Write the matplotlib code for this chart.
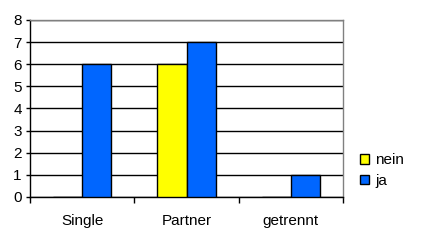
import matplotlib
matplotlib.use("Agg")
import matplotlib.pyplot as plt
import numpy as np

categories = ["Single", "Partner", "getrennt"]
nein = [0, 6, 0]
ja = [6, 7, 1]
series_names = ["nein", "ja"]
yticks = [0, 1, 2, 3, 4, 5, 6, 7, 8]

plt.rcParams['font.family'] = ['Liberation Sans', 'DejaVu Sans']

fig = plt.figure(figsize=(4.23, 2.40), dpi=100)
ax = fig.add_axes([30/423, 43/240, 313/423, 177/240])

x = np.arange(len(categories)) + 0.5
w = 0.28
b1 = ax.bar(x - w, nein, width=w, align='edge', color='#ffff00', edgecolor='black', linewidth=1, zorder=3, label=series_names[0])
b2 = ax.bar(x, ja, width=w, align='edge', color='#0066ff', edgecolor='black', linewidth=1, zorder=3, label=series_names[1])

ax.set_xlim(0, 3)
ax.set_ylim(0, 8)
ax.set_yticks(yticks)
ax.set_yticklabels([str(v) for v in yticks], fontsize=11)
ax.yaxis.grid(True, color='black', linewidth=1, zorder=0)
ax.set_axisbelow(True)

ax.set_xticks([0, 1, 2, 3])
ax.set_xticklabels([])
ax.set_xticks(x, minor=True)
ax.set_xticklabels(categories, minor=True, fontsize=11)
ax.tick_params(axis='x', which='minor', length=0, pad=12)
ax.tick_params(axis='x', which='major', length=4, width=1, color='black', direction='out')
ax.tick_params(axis='y', length=3, width=1, color='black', direction='out', pad=3)

ax.spines['left'].set_color('black')
ax.spines['bottom'].set_color('black')
ax.spines['top'].set_color('#808080')
ax.spines['right'].set_color('#808080')
for s in ax.spines.values():
    s.set_linewidth(1)

leg = fig.legend(handles=[b1, b2], labels=series_names, loc='upper left',
                 bbox_to_anchor=(354/423, 1 - 147/240), frameon=False, fontsize=11,
                 handlelength=0.6, handleheight=0.6, handletextpad=0.4, labelspacing=0.45,
                 borderaxespad=0)

fig.savefig("out.png", dpi=100)
